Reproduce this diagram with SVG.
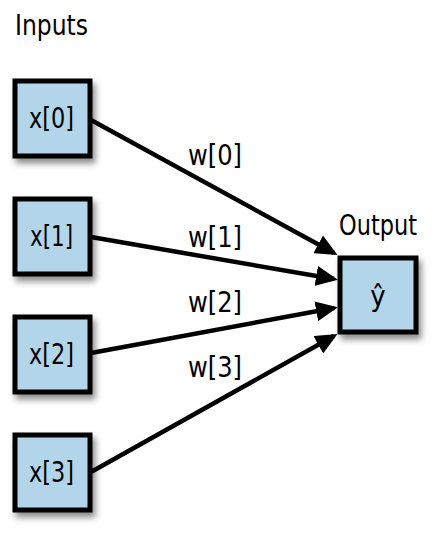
<svg xmlns="http://www.w3.org/2000/svg" width="443" height="537" viewBox="0 0 443 537">
<defs>
<style>
text{font-family:"Liberation Sans Narrow","DejaVu Sans Condensed","Liberation Sans",sans-serif;font-size:29px;fill:#000}
.box{fill:#b3d5ea;stroke:#000;stroke-width:5;filter:url(#sh)}
.conn{stroke:#000;stroke-width:4.5;fill:none;marker-end:url(#ah)}
</style>
<filter id="sh" x="-20%" y="-20%" width="160%" height="160%">
<feDropShadow dx="3" dy="5" stdDeviation="3" flood-color="#000" flood-opacity="0.45"/>
</filter>
<marker id="ah" markerUnits="userSpaceOnUse" markerWidth="22" markerHeight="20" refX="18" refY="10" orient="auto">
<path d="M0,0 L22,10 L0,20 z" fill="#000"/>
</marker>
</defs>
<rect width="443" height="537" fill="#fff"/>
<text x="15" y="35" textLength="73" lengthAdjust="spacingAndGlyphs">Inputs</text>
<g id="connectors">
<line class="conn" x1="91" y1="120" x2="334" y2="253"/>
<line class="conn" x1="91" y1="237" x2="334" y2="279"/>
<line class="conn" x1="91" y1="353" x2="334" y2="308"/>
<line class="conn" x1="91" y1="472" x2="334" y2="336"/>
<text x="188" y="165" textLength="54" lengthAdjust="spacingAndGlyphs">w[0]</text>
<text x="188" y="247" textLength="54" lengthAdjust="spacingAndGlyphs">w[1]</text>
<text x="188" y="312" textLength="54" lengthAdjust="spacingAndGlyphs">w[2]</text>
<text x="188" y="377" textLength="54" lengthAdjust="spacingAndGlyphs">w[3]</text>
</g>
<g id="x0"><rect class="box" x="15" y="81" width="75" height="75"/><text x="29" y="128" textLength="45" lengthAdjust="spacingAndGlyphs">x[0]</text></g>
<g id="x1"><rect class="box" x="15" y="199" width="75" height="75"/><text x="30" y="246" textLength="43" lengthAdjust="spacingAndGlyphs">x[1]</text></g>
<g id="x2"><rect class="box" x="15" y="317" width="75" height="75"/><text x="29" y="364" textLength="45" lengthAdjust="spacingAndGlyphs">x[2]</text></g>
<g id="x3"><rect class="box" x="15" y="435" width="75" height="75"/><text x="29" y="482" textLength="45" lengthAdjust="spacingAndGlyphs">x[3]</text></g>
<g id="output"><text x="339" y="235" textLength="78" lengthAdjust="spacingAndGlyphs">Output</text><rect class="box" x="340" y="258" width="76" height="74"/><text x="378" y="306" text-anchor="middle">ŷ</text></g>
</svg>
